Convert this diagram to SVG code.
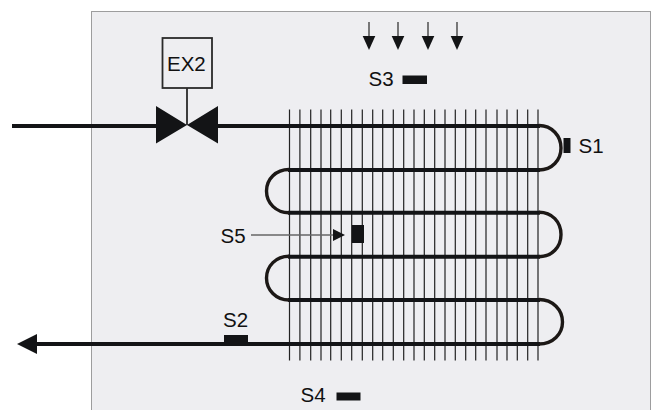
<svg xmlns="http://www.w3.org/2000/svg" width="654" height="410" viewBox="0 0 654 410">
<style>
.t{font-family:"Liberation Sans",Arial,sans-serif;font-size:20.5px;fill:#111}
.tube{fill:none;stroke:#131416;stroke-width:4}
.bend{fill:none;stroke:#1c1816;stroke-width:3.4}
.fin{stroke:#222;stroke-width:1.2}
.k{fill:#131416}
</style>
<defs>
<g id="air"><path d="M0 0V16" stroke="#444" stroke-width="1.4" fill="none"/><path class="k" d="M-6.300 14H6.300L0 28Z"/></g>
</defs>
<rect id="panel" x="91.500" y="11.500" width="559" height="400" fill="#eeeef1" stroke="#444" stroke-width="1" stroke-dasharray="1 1"/>
<g id="fins">
<path class="fin" d="M289.500 109.500V360.500M299.900 109.500V360.500M310.700 109.500V360.500M321 109.500V360.500M330.700 109.500V360.500M341.300 109.500V360.500M351.700 109.500V360.500M362.300 109.500V360.500M372.700 109.500V360.500M382.700 109.500V360.500M393.300 109.500V360.500M403.700 109.500V360.500M414 109.500V360.500M424.300 109.500V360.500M434.700 109.500V360.500M445 109.500V360.500M455.300 109.500V360.500M465.700 109.500V360.500M475.700 109.500V360.500M486 109.500V360.500M497 109.500V360.500M507 109.500V360.500M517.300 109.500V360.500M527.700 109.500V360.500M538 109.500V360.500"/>
</g>
<g id="connectors">
<path class="tube" d="M12 126H156M218 126H540M288 170H540M288 212.700H540M288 256.700H540M288 300H540M37 344H540"/>
<path class="bend" d="M539 125.500C552 125.500 561 136 561 148C561 160 552 170 539 170"/>
<path class="bend" d="M289 169.500C276 169.500 266.500 179 266.500 191C266.500 203 276 212.700 289 212.700"/>
<path class="bend" d="M539 212.200C552 212.200 561 222 561 234.500C561 247 552 256.700 539 256.700"/>
<path class="bend" d="M289 256.200C276 256.200 266.500 266 266.500 278C266.500 290 276 300 289 300"/>
<path class="bend" d="M539 299.500C553 299.500 562.500 310 562.500 322C562.500 334 553 344 539 344"/>
<path d="M251 235H335" stroke="#666" stroke-width="1.300" fill="none"/>
<path class="k" d="M333 229L345 235L333 241Z"/>
<path class="k" d="M17 344L37 334V354Z"/>
<use href="#air" x="369" y="22"/>
<use href="#air" x="398" y="22"/>
<use href="#air" x="428" y="22"/>
<use href="#air" x="457" y="22"/>
</g>
<g id="valve-EX2">
<rect x="162.500" y="38" width="49.500" height="50" fill="none" stroke="#2a2a2a" stroke-width="1.800"/>
<path d="M187 88V125" stroke="#2a2a2a" stroke-width="1.800" fill="none"/>
<path class="k" d="M156 106L187 125L218 106V143.500L187 125L156 143.500Z"/>
<text class="t" x="167" y="71">EX2</text>
</g>
<g id="S1"><rect class="k" x="563.500" y="138" width="7" height="15"/><text class="t" x="578.500" y="153">S1</text></g>
<g id="S2"><rect class="k" x="224" y="335" width="24" height="9"/><text class="t" x="223" y="327">S2</text></g>
<g id="S3"><rect class="k" x="402.500" y="75.500" width="24.500" height="8.500"/><text class="t" x="368.500" y="86">S3</text></g>
<g id="S4"><rect class="k" x="336.500" y="392.500" width="24" height="8"/><text class="t" x="300.500" y="402">S4</text></g>
<g id="S5"><rect class="k" x="352" y="225" width="12" height="18"/><text class="t" x="220.500" y="243">S5</text></g>
</svg>
